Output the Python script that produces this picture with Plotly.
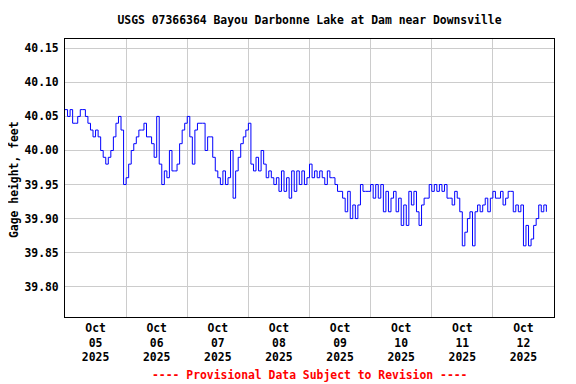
import pandas as pd
import plotly.graph_objects as go

# Hourly gage height readings (feet), starting 2025-10-05 00:00
oct05 = [40.06, 40.05, 40.06, 40.04, 40.04, 40.05, 40.06, 40.06, 40.05, 40.04, 40.03, 40.02,
         40.03, 40.02, 40.00, 39.99, 39.98, 39.99, 40.00, 40.02, 40.04, 40.05, 40.03, 39.95]
oct06 = [39.96, 39.98, 40.00, 40.01, 40.02, 40.03, 40.03, 40.04, 40.02, 40.02, 40.01, 39.99,
         40.05, 39.98, 39.95, 39.97, 39.96, 40.00, 39.97, 39.97, 39.98, 40.01, 40.03, 40.04]
oct07 = [40.05, 40.02, 39.98, 40.03, 40.04, 40.04, 40.04, 40.00, 40.02, 40.02, 39.99, 39.97,
         39.96, 39.95, 39.97, 39.95, 39.96, 40.00, 39.93, 39.97, 39.99, 40.01, 40.02, 40.03]
oct08 = [40.04, 39.98, 39.97, 39.99, 39.97, 40.00, 39.98, 39.96, 39.97, 39.96, 39.95, 39.96,
         39.94, 39.97, 39.94, 39.96, 39.93, 39.97, 39.94, 39.97, 39.95, 39.97, 39.95, 39.96]
oct09 = [39.98, 39.96, 39.97, 39.96, 39.97, 39.96, 39.95, 39.97, 39.96, 39.96, 39.95, 39.94,
         39.94, 39.93, 39.91, 39.94, 39.90, 39.92, 39.90, 39.92, 39.95, 39.94, 39.94, 39.94]
oct10 = [39.95, 39.93, 39.95, 39.93, 39.95, 39.91, 39.94, 39.91, 39.93, 39.94, 39.91, 39.93,
         39.89, 39.92, 39.89, 39.94, 39.92, 39.94, 39.91, 39.89, 39.92, 39.93, 39.93, 39.95]
oct11 = [39.94, 39.95, 39.94, 39.95, 39.94, 39.95, 39.93, 39.93, 39.92, 39.94, 39.93, 39.91,
         39.86, 39.88, 39.90, 39.91, 39.86, 39.91, 39.92, 39.91, 39.92, 39.93, 39.91, 39.93]
oct12 = [39.94, 39.93, 39.93, 39.94, 39.92, 39.93, 39.94, 39.94, 39.91, 39.92, 39.91, 39.92,
         39.86, 39.89, 39.86, 39.87, 39.89, 39.90, 39.92, 39.91, 39.92, 39.91]

heights = oct05 + oct06 + oct07 + oct08 + oct09 + oct10 + oct11 + oct12
times = pd.date_range("2025-10-05 00:00", periods=len(heights), freq="h")

day_labels = ["Oct<br>05<br>2025", "Oct<br>06<br>2025", "Oct<br>07<br>2025", "Oct<br>08<br>2025",
              "Oct<br>09<br>2025", "Oct<br>10<br>2025", "Oct<br>11<br>2025", "Oct<br>12<br>2025"]
label_times = pd.date_range("2025-10-05 12:00", periods=8, freq="D")
y_ticks = [39.80, 39.85, 39.90, 39.95, 40.00, 40.05, 40.10, 40.15]

FONT = "DejaVu Sans Mono"
BOLD = dict(family=FONT, size=11.4, color="black", weight="bold")

# the page body adds an 8px offset; margins compensate so the plot sits where the reference has it
fig = go.Figure()
fig.add_trace(go.Scatter(x=times, y=heights, mode="lines",
                         line=dict(color="#0000ff", width=1, shape="hv"),
                         showlegend=False))

fig.update_layout(
    width=576, height=384,
    margin=dict(l=57, r=30, t=31, b=75, autoexpand=False),
    paper_bgcolor="white", plot_bgcolor="white",
    font=BOLD,
    title=dict(text="USGS 07366364 Bayou Darbonne Lake at Dam near Downsville",
               x=0.5, xref="paper", y=1 - 12 / 384, yref="container",
               xanchor="center", yanchor="middle", font=BOLD),
    xaxis=dict(type="date", range=["2025-10-05 00:00", "2025-10-13 00:00"],
               tickmode="array", tickvals=label_times, ticktext=day_labels,
               showgrid=False, ticks="", showline=True, linecolor="black", linewidth=1,
               mirror=True, zeroline=False, automargin=False, tickfont=BOLD,
               minor=dict(tick0="2025-10-05 00:00", dtick=86400000, showgrid=True,
                          gridcolor="#cccccc", gridwidth=1, ticks="")),
    yaxis=dict(range=[39.7555, 40.1637], tickmode="array", tickvals=y_ticks,
               tickformat=".2f", showgrid=True, gridcolor="#cccccc", gridwidth=1,
               ticks="", showline=True, linecolor="black", linewidth=1, mirror=True,
               zeroline=False, automargin=False, tickfont=BOLD, ticklabelstandoff=3),
)

fig.add_annotation(text="Gage height, feet", textangle=-90, borderpad=0,
                   xref="paper", yref="paper", x=(14 - 65) / 489, y=(317 - 180) / 278,
                   xanchor="center", yanchor="middle", showarrow=False, font=BOLD)

fig.add_annotation(text="---- Provisional Data Subject to Revision ----",
                   xref="paper", yref="paper", x=0.5, y=(317 - 375) / 278,
                   xanchor="center", yanchor="middle", showarrow=False,
                   font=dict(family=FONT, size=11.4, color="red", weight="bold"))

fig.write_html("out.html")
